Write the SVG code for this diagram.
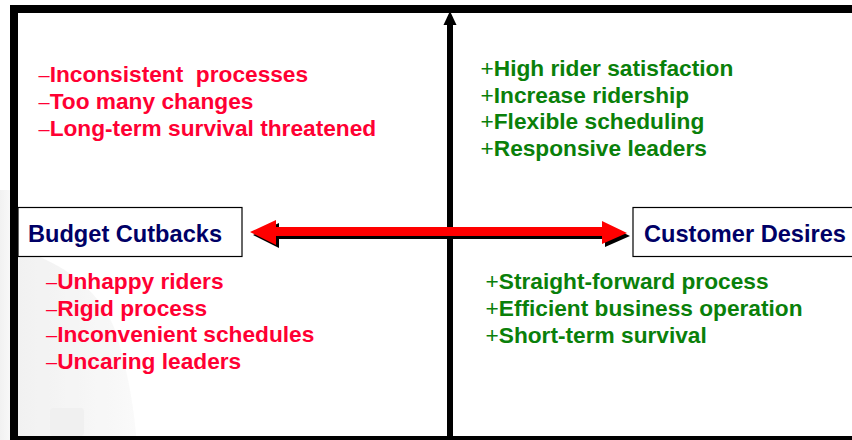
<svg xmlns="http://www.w3.org/2000/svg" width="852" height="440" viewBox="0 0 852 440">
  <style>
    text { font-family: "Liberation Sans", Arial, sans-serif; font-weight: bold; font-size: 22.7px; white-space: pre; }
    .neg { fill: #ff0033; }
    .pos { fill: #0a800a; }
    .sym { font-weight: normal; }
    .dash { font-weight: normal; font-size: 20px; }
    .box { fill: #ffffff; stroke: #000000; stroke-width: 1.2; }
    .lbl { fill: #000066; font-size: 23.6px; }
  </style>
  <defs>
    <linearGradient id="wm" x1="0" y1="0" x2="1" y2="0">
      <stop offset="0" stop-color="#ececec"/>
      <stop offset="1" stop-color="#f8f8f8"/>
    </linearGradient>
  </defs>
  <rect width="852" height="440" fill="#ffffff"/>
  <!-- faint watermark -->
  <g id="watermark" opacity="0.7">
    <path d="M0 190 L12 190 L12 440 L0 440 Z" fill="url(#wm)"/>
    <path d="M18 250 C60 260 100 290 115 330 C128 370 134 410 136 436 L18 436 Z" fill="url(#wm)"/>
    <rect x="50" y="408" width="34" height="28" rx="3" fill="#ebebeb"/>
  </g>
  <!-- frame -->
  <rect id="frame" x="14" y="9" width="870" height="431" fill="none" stroke="#000000" stroke-width="8"/>
  <g id="connectors">
    <line x1="450" y1="22" x2="450" y2="440" stroke="#000000" stroke-width="6"/>
    <polygon points="443.5,25 450,11 456.5,25" fill="#000000"/>
    <polygon transform="translate(3,3)" points="250,232 276,220 276,227 602,227 602,221 627,233 602,244 602,236 276,236 276,245" fill="#000000"/>
    <polygon points="250,232 276,220 276,227 602,227 602,221 627,233 602,244 602,236 276,236 276,245" fill="#ff0000"/>
  </g>
  <g id="node-budget">
    <rect class="box" x="18" y="207.5" width="224" height="49"/>
    <text class="lbl" x="28" y="241.5">Budget Cutbacks</text>
  </g>
  <g id="node-customer">
    <rect class="box" x="633" y="207.5" width="230" height="49"/>
    <text class="lbl" x="644" y="241.5">Customer Desires</text>
  </g>
  <g id="text-top-left" class="neg">
    <text x="38.5" y="82"><tspan class="dash">–</tspan>Inconsistent  processes</text>
    <text x="38.5" y="109"><tspan class="dash">–</tspan>Too many changes</text>
    <text x="38.5" y="136"><tspan class="dash">–</tspan>Long-term survival threatened</text>
  </g>
  <g id="text-bottom-left" class="neg">
    <text x="46" y="289"><tspan class="dash">–</tspan>Unhappy riders</text>
    <text x="46" y="315.5"><tspan class="dash">–</tspan>Rigid process</text>
    <text x="46" y="342"><tspan class="dash">–</tspan>Inconvenient schedules</text>
    <text x="46" y="368.5"><tspan class="dash">–</tspan>Uncaring leaders</text>
  </g>
  <g id="text-top-right" class="pos">
    <text x="480.5" y="76"><tspan class="sym">+</tspan>High rider satisfaction</text>
    <text x="480.5" y="102.5"><tspan class="sym">+</tspan>Increase ridership</text>
    <text x="480.5" y="129"><tspan class="sym">+</tspan>Flexible scheduling</text>
    <text x="480.5" y="155.5"><tspan class="sym">+</tspan>Responsive leaders</text>
  </g>
  <g id="text-bottom-right" class="pos">
    <text x="485.5" y="289"><tspan class="sym">+</tspan>Straight-forward process</text>
    <text x="485.5" y="316"><tspan class="sym">+</tspan>Efficient business operation</text>
    <text x="485.5" y="343"><tspan class="sym">+</tspan>Short-term survival</text>
  </g>
</svg>
